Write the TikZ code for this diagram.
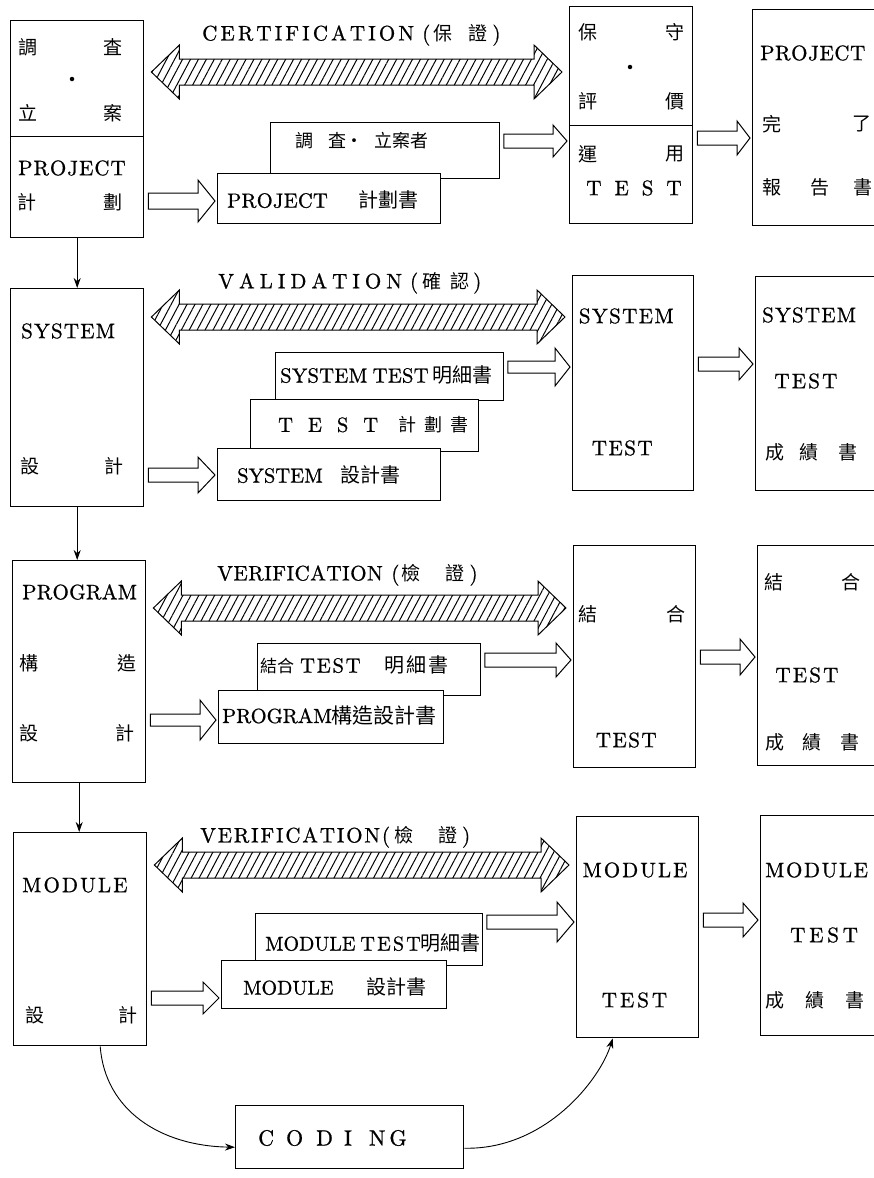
\documentclass[tikz,border=0pt]{standalone}
\usepackage{fontspec}
\setmainfont{lmroman10-regular}[Extension=.otf, FakeBold=0.8]
\newfontfamily\cjk{Noto Sans CJK TC}
\usetikzlibrary{arrows.meta,patterns.meta,calc}

% letter-spaced Latin text: kern (pt) after every letter
\makeatletter
\newcommand\ls[2]{{\def\ls@k{\kern#1pt}\ls@loop#2\relax}}
\def\ls@loop#1{\ifx#1\relax\else#1\ls@k\expandafter\ls@loop\fi}
\makeatother
% CJK characters inside the level labels
\newcommand\lcj[1]{{\fontsize{19}{22}\selectfont\cjk #1}}

\tikzset{
  pbox/.style={draw, line width=1.4pt, inner sep=0pt, anchor=north west},
  dbox/.style={draw, line width=0.9pt, fill=white, inner sep=0pt, anchor=north west},
  tx/.style={inner sep=0pt, font=\fontsize{21}{24}\selectfont},
  cj/.style={inner sep=0pt, font=\fontsize{19}{22}\selectfont\cjk},
  lbl/.style={inner sep=0pt, anchor=west, font=\fontsize{21}{24}\selectfont},
  dtx/.style={inner sep=0pt, anchor=west, font=\fontsize{20.5}{24}\selectfont},
  dot/.style={circle, fill, inner sep=0pt, minimum size=4.5pt},
  flow/.style={line width=0.9pt, -{Stealth[length=10pt,width=7pt]}},
  hatch/.style={line width=1pt, fill=white, postaction={pattern={Lines[angle=62,distance=7pt,line width=1pt]}}},
  hollow/.style={line width=1pt, fill=white},
}

% process box: name, x, y (top left), width, height
\newcommand\boxat[5]{\node[pbox, minimum width=#4pt, minimum height=#5pt] (#1) at (#2,#3) {};}
% document sheet: name, x, y (top left), width, height
\newcommand\docat[5]{\node[dbox, minimum width=#4pt, minimum height=#5pt] (#1) at (#2,#3) {};}

% hatched double arrow between two points on one level
\newcommand\hatcharrow[2]{%
  \draw[hatch] let \p1=(#1), \p2=(#2) in
   (\x1+7pt,\y1) -- (\x1+35pt,\y1+27pt) -- (\x1+35pt,\y1+13pt) -- (\x2-35pt,\y1+13pt)
   -- (\x2-35pt,\y1+27pt) -- (\x2-7pt,\y1) -- (\x2-35pt,\y1-27pt) -- (\x2-35pt,\y1-13pt)
   -- (\x1+35pt,\y1-13pt) -- (\x1+35pt,\y1-27pt) -- cycle;}

% hollow block arrow: start, end, shaft half height, head half height, head length
\newcommand\hollowarrow[5]{%
  \draw[hollow] let \p1=(#1), \p2=(#2) in
   (\x1+4pt,\y1+#3pt) -- (\x2-2pt-#5pt,\y1+#3pt) -- (\x2-2pt-#5pt,\y1+#4pt) -- (\x2-2pt,\y1)
   -- (\x2-2pt-#5pt,\y1-#4pt) -- (\x2-2pt-#5pt,\y1-#3pt) -- (\x1+4pt,\y1-#3pt) -- cycle;}

\begin{document}
\begin{tikzpicture}[x=1pt,y=-1pt]
\fill[white] (0,0) rectangle (873,1178);
\useasboundingbox (0,0) rectangle (873,1178);

%% ---------------- project level ----------------
\boxat{survey}{10}{20}{133}{116}
\boxat{plan}{10}{136}{133}{101}
\node[cj] (s1) at (28,47) {調};
\node[cj] (s2) at (113,47) {査};
\node[dot] (s3) at (72,79) {};
\node[cj] (s4) at (28,113) {立};
\node[cj] (s5) at (113,113) {案};
\node[tx, anchor=west] (p1) at (18,168) {\ls{1}{PROJECT}};
\node[cj] (p2) at (27,202) {計};
\node[cj] (p3) at (113,202) {劃};

\boxat{maint}{569}{6}{123}{119}
\boxat{optest}{569}{125}{123}{98}
\node[cj] (m1) at (588,32) {保};
\node[cj] (m2) at (675,32) {守};
\node[dot] (m3) at (630,67) {};
\node[cj] (m4) at (588,101) {評};
\node[cj] (m5) at (675,101) {價};
\node[cj] (o1) at (588,154) {運};
\node[cj] (o2) at (675,154) {用};
\node[tx] (o3) at (634,188) {T\hspace{13pt}E\hspace{13pt}S\hspace{13pt}T};

\boxat{report}{752}{9}{150}{216}
\node[tx, anchor=west] (r1) at (760,53) {\ls{0.6}{PROJECT}};
\node[cj] (r2) at (772,124) {完};
\node[cj] (r3) at (862,124) {了};
\node[cj] (r4) at (772,187) {報};
\node[cj] (r5) at (820,187) {告};
\node[cj] (r6) at (863,187) {書};

\node[lbl] (cert) at (202,35) {\ls{3.1}{CERTIFICATION}\hspace{5pt}(\hspace{3pt}\lcj{保}\hspace{16pt}\lcj{證}\hspace{5pt})};
\hatcharrow{survey.east |- 0,72}{maint.west |- 0,72}

\docat{pdoc2}{270}{122}{229}{56}
\docat{pdoc1}{217}{173}{223}{50}
\node[dtx, font=\fontsize{18}{20}\selectfont\cjk] (pd2) at (295,141) {調\hspace{15pt}査\hspace{-1pt}・\hspace{11pt}立案者};
\node[dtx] (pd1) at (227,200) {\ls{0.25}{PROJECT}\hspace{30pt}{\fontsize{20}{22}\selectfont\cjk 計劃書}};

\hollowarrow{plan.east |- 0,201}{pdoc1.west |- 0,201}{8}{21}{17}
\hollowarrow{pdoc2.east |- 0,141}{optest.west |- 0,141}{7}{16}{14}
\hollowarrow{optest.east |- 0,138}{report.west |- 0,138}{7}{17}{13}

%% ---------------- system level ----------------
\boxat{sysd}{10}{288}{133}{218}
\node[tx, anchor=west] (y1) at (21,331) {\ls{1.2}{SYSTEM}};
\node[cj] (y2) at (30,466) {設};
\node[cj] (y3) at (114,466) {計};

\node[lbl] (valid) at (218,283) {\ls{5}{VALIDATION}\hspace{3pt}(\hspace{4pt}\lcj{確}\hspace{9pt}\lcj{認}\hspace{4pt})};

\docat{sdoc3}{275}{352}{228}{48}
\docat{sdoc2}{250}{399}{228}{52}
\docat{sdoc1}{217}{448}{223}{52}
\node[dtx] (sd3) at (280,375) {\ls{0.3}{SYSTEM}\hspace{5pt}\ls{0.3}{TEST}\hspace{4pt}{\fontsize{20}{22}\selectfont\cjk 明細書}};
\node[dtx] (sd2) at (278,425) {T\hspace{15pt}E\hspace{15pt}S\hspace{15pt}T\hspace{20pt}{\fontsize{18}{20}\selectfont\cjk 計\hspace{8pt}劃\hspace{8pt}書}};
\node[dtx] (sd1) at (237,475) {SYSTEM\hspace{18pt}{\fontsize{20}{22}\selectfont\cjk 設計書}};

\boxat{systest}{572}{275}{121}{215}
\node[tx] (st1) at (627,316) {\ls{1.4}{SYSTEM}};
\node[tx] (st2) at (623,448) {\ls{1.5}{TEST}};

\boxat{sysrep}{755}{276}{150}{214}
\node[tx, anchor=west] (sr1) at (762,315) {\ls{1.2}{SYSTEM}};
\node[tx] (sr2) at (807,381) {\ls{2.2}{TEST}};
\node[cj] (sr3) at (775,452) {成};
\node[cj] (sr4) at (809,452) {績};
\node[cj] (sr5) at (848,452) {書};

\hatcharrow{sysd.east |- 0,317}{systest.west |- 0,317}
\hollowarrow{sysd.east |- 0,475}{sdoc1.west |- 0,475}{7}{18}{17}
\hollowarrow{sdoc3.east |- 0,367}{systest.west |- 0,367}{6}{19}{15}
\hollowarrow{systest.east |- 0,364}{sysrep.west |- 0,364}{7}{16}{14}

%% ---------------- program level ----------------
\boxat{progd}{12}{560}{133}{222}
\node[tx, anchor=west] (g1) at (22,592) {\ls{0.3}{PROGRAM}};
\node[cj] (g2) at (29,663) {構};
\node[cj] (g3) at (127,663) {造};
\node[cj] (g4) at (29,733) {設};
\node[cj] (g5) at (125,733) {計};

\node[lbl] (verif1) at (217,575) {\ls{0.5}{VERIFICATION}\hspace{8pt}(\hspace{2pt}\lcj{檢}\hspace{25pt}\lcj{證}\hspace{5pt})};

\docat{gdoc2}{257}{643}{223}{52}
\docat{gdoc1}{218}{690}{225}{53}
\node[dtx] (gd2) at (260,665) {{\fontsize{17}{20}\selectfont\cjk 結合}\hspace{6pt}\ls{1.8}{TEST}\hspace{22pt}{\fontsize{20}{22}\selectfont\cjk 明\hspace{2pt}細\hspace{2pt}書}};
\node[dtx] (gd1) at (222,715) {PROGRAM{\fontsize{21}{22}\selectfont\cjk 構造設計書}};

\boxat{ittest}{573}{545}{122}{222}
\node[cj] (it1) at (588,614) {結};
\node[cj] (it2) at (676,614) {合};
\node[tx] (it3) at (627,740) {\ls{1.5}{TEST}};

\boxat{itrep}{757}{545}{150}{220}
\node[cj] (ir1) at (774,582) {結};
\node[cj] (ir2) at (851,582) {合};
\node[tx] (ir3) at (808,675) {\ls{2.2}{TEST}};
\node[cj] (ir4) at (775,742) {成};
\node[cj] (ir5) at (812,742) {績};
\node[cj] (ir6) at (850,742) {書};

\hatcharrow{progd.east |- 0,608}{ittest.west |- 0,608}
\hollowarrow{progd.east |- 0,720}{gdoc1.west |- 0,720}{6}{20}{16}
\hollowarrow{gdoc2.east |- 0,660}{ittest.west |- 0,660}{7}{17}{15}
\hollowarrow{ittest.east |- 0,657}{itrep.west |- 0,657}{7}{18}{15}

%% ---------------- module level ----------------
\boxat{modd}{13}{832}{133}{213}
\node[tx, anchor=west] (d1) at (22,885) {\ls{2.1}{MODULE}};
\node[cj] (d2) at (35,1015) {設};
\node[cj] (d3) at (128,1015) {計};

\node[lbl] (verif2) at (200,837) {\ls{1.8}{VERIFICATION}(\hspace{4pt}\lcj{檢}\hspace{25pt}\lcj{證}\hspace{5pt})};

\docat{mdoc2}{255}{913}{227}{52}
\docat{mdoc1}{221}{960}{225}{48}
\node[dtx, font=\fontsize{20}{24}\selectfont] (md2) at (265,943) {MODULE\hspace{5pt}\ls{2.2}{TEST}\hspace{-2pt}{\fontsize{20}{22}\selectfont\cjk 明細書}};
\node[dtx, font=\fontsize{20}{24}\selectfont] (md1) at (243,987) {MODULE\hspace{33pt}{\cjk 設計書}};

\boxat{modtest}{576}{816}{122}{221}
\node[tx] (mt1) at (636,870) {\ls{2}{MODULE}};
\node[tx] (mt2) at (636,1000) {\ls{3}{TEST}};

\boxat{modrep}{760}{815}{150}{220}
\node[tx, anchor=west] (mr1) at (765,870) {\ls{1.6}{MODULE}};
\node[tx] (mr2) at (826,935) {\ls{3.8}{TEST}};
\node[cj] (mr3) at (775,1000) {成};
\node[cj] (mr4) at (815,1000) {績};
\node[cj] (mr5) at (855,1000) {書};

\hatcharrow{modd.east |- 0,865}{modtest.west |- 0,865}
\hollowarrow{modd.east |- 0,998}{mdoc1.west |- 0,998}{7}{16}{16}
\hollowarrow{mdoc2.east |- 0,922}{modtest.west |- 0,922}{7}{20}{17}
\hollowarrow{modtest.east |- 0,920}{modrep.west |- 0,920}{7}{17}{15}

%% ---------------- coding ----------------
\boxat{coding}{235}{1105}{228}{63}
\node[tx, anchor=west, font=\fontsize{22}{24}\selectfont] (cd) at (258,1138) {C\hspace{12pt}O\hspace{13pt}D\hspace{11pt}I\hspace{17pt}N\hspace{4pt}G};

%% ---------------- flow between design levels ----------------
\draw[flow] (plan.south) -- (sysd.north);
\draw[flow] (sysd.south) -- (sysd.south |- progd.north);
\draw[flow] (progd.south) -- (progd.south |- modd.north);
\draw[flow] ([xshift=20pt]modd.south) .. controls (105,1110) and (160,1146) .. ([yshift=-10pt]coding.west);
\draw[flow] ([yshift=-11pt]coding.east) .. controls (545,1150) and (600,1080) .. ([xshift=-25pt]modtest.south);
\end{tikzpicture}
\end{document}
